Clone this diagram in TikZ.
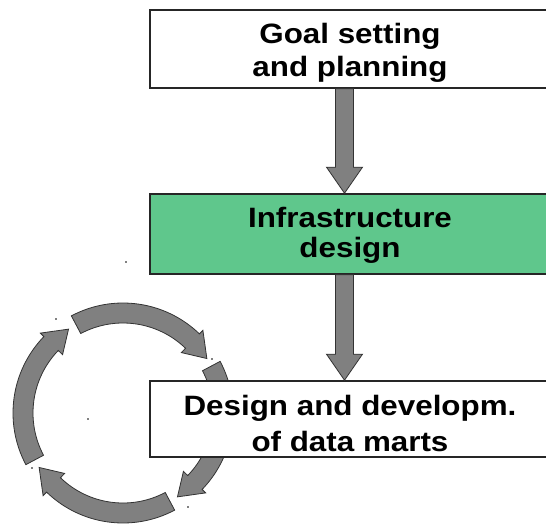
\documentclass[tikz,border=0pt]{standalone}
\usepackage{fontspec}
\setmainfont{Liberation Sans}[FakeStretch=1.12]
\definecolor{boxgreen}{RGB}{95,199,140}
\definecolor{arrgray}{RGB}{128,128,128}
\newcommand\blkarrow[2]{%
  \path[blk] ([shift={(-9,0)}]#1) -- ([shift={(-9,-26)}]#2) -- ([shift={(-18,-26)}]#2) -- (#2)
    -- ([shift={(18,-26)}]#2) -- ([shift={(9,-26)}]#2) -- ([shift={(9,0)}]#1) -- cycle;}
\newcommand\ringarrow[3]{%
  \path[blk] ([shift={(#1:110)}]C) arc[start angle=#1, end angle=#2, radius=110]
    -- ([shift={(#2:115)}]C) -- ([shift={(#3:100)}]C) -- ([shift={(#2:84)}]C)
    -- ([shift={(#2:90)}]C) arc[start angle=#2, end angle=#1, radius=90] -- cycle;}
\begin{document}
\begin{tikzpicture}[x=1pt,y=-1pt,
  box/.style={draw=black!85, line width=1.6pt, minimum width=400pt, inner sep=0pt},
  txt/.style={align=center, inner sep=0pt, font=\bfseries\fontsize{28}{#1}\selectfont},
  blk/.style={fill=arrgray, draw=black!80, line width=0.8pt, line join=miter},
  speck/.style={fill=black, inner sep=0pt, minimum size=1.6pt, circle}]
\useasboundingbox (0,0) rectangle (546,525);
\clip (0,0) rectangle (546,525);
% ring of arrows
\coordinate (C) at (123,413);
\ringarrow{-118}{-46}{-33}
\ringarrow{-28}{44}{57}
\ringarrow{62}{134}{147}
\ringarrow{152}{224}{237}
% boxes
\node[box, fill=white, minimum height=78pt] (g) at (350,49) {};
\node[box, fill=boxgreen, minimum height=80pt] (i) at (350,234) {};
\node[box, fill=white, minimum height=76pt] (d) at (350,419) {};
\node[txt=33pt] (gt) at (350,52.5) {Goal setting\\and planning};
\node[txt=30pt] (it) at (350,235) {Infrastructure\\design};
\node[txt=36pt] (dt) at (350,423.5) {Design and developm.\\of data marts};
% block arrows
\coordinate (a1) at ([xshift=-5.5pt]g.south);
\coordinate (b1) at ([xshift=-5.5pt]i.north);
\coordinate (a2) at ([xshift=-5.5pt]i.south);
\coordinate (b2) at ([xshift=-5.5pt]d.north);
\blkarrow{a1}{b1}
\blkarrow{a2}{b2}
% small specks
\node[speck] (s1) at (56,319) {};
\node[speck] (s2) at (212,359) {};
\node[speck] (s3) at (32,468) {};
\node[speck] (s4) at (88,419) {};
\node[speck] (s5) at (188,507) {};
\node[speck] (s6) at (126,262) {};
\end{tikzpicture}
\end{document}
